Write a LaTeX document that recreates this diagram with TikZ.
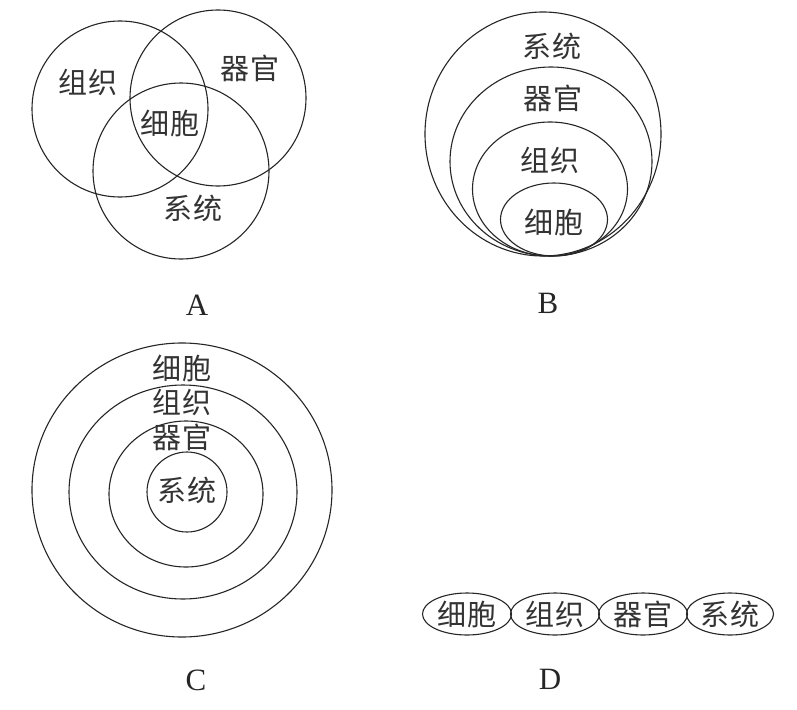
\documentclass[tikz,border=0pt]{standalone}
\usepackage{fontspec}
\setmainfont{Liberation Serif}
\newfontfamily\cjk[LetterSpace=6]{Noto Sans CJK SC}
\usetikzlibrary{shapes.geometric}
\begin{document}
\begin{tikzpicture}[x=1pt,y=-1pt,
  ring/.style={draw=black!85,line width=1.1pt,ellipse,inner sep=0pt},
  word/.style={font=\cjk\fontsize{29}{29}\selectfont,text=black!80,inner sep=0pt},
  panel/.style={font=\fontsize{31}{31}\selectfont,text=black!85,inner sep=0pt}]
\useasboundingbox[fill=white] (0,0) rectangle (797,709);
% Panel A
\node[ring,minimum width=176pt,minimum height=176pt] (a1) at (120,109) {};
\node[ring,minimum width=176pt,minimum height=176pt] (a2) at (218,98) {};
\node[ring,minimum width=176pt,minimum height=176pt] (a3) at (181,171) {};
\node[word] (at1) at (88,82) {组织};
\node[word] (at2) at (250,68) {器官};
\node[word] (at3) at (170,123) {细胞};
\node[word] (at4) at (193,208) {系统};
\node[panel] (la) at (197,305) {A};
% Panel B
\node[ring,minimum width=236pt,minimum height=244pt] (b1) at (543,134) {};
\node[ring,minimum width=202pt,minimum height=189pt] (b2) at (551,161.5) {};
\node[ring,minimum width=155pt,minimum height=134pt] (b3) at (550,189) {};
\node[ring,minimum width=107pt,minimum height=73pt] (b4) at (554,219.5) {};
\node[word] (bt1) at (552,46) {系统};
\node[word] (bt2) at (553,98) {器官};
\node[word] (bt3) at (550,160) {组织};
\node[word] (bt4) at (554,222) {细胞};
\node[panel] (lb) at (548,303) {B};
% Panel C
\node[ring,minimum width=300pt,minimum height=294pt] (c1) at (182,490) {};
\node[ring,minimum width=228pt,minimum height=214pt] (c2) at (183,492) {};
\node[ring,minimum width=154pt,minimum height=146pt] (c3) at (186,494) {};
\node[ring,minimum width=80pt,minimum height=80pt] (c4) at (187,492) {};
\node[word] (ct1) at (182,368) {细胞};
\node[word] (ct2) at (182,402) {组织};
\node[word] (ct3) at (182,437) {器官};
\node[word] (ct4) at (187,490) {系统};
\node[panel] (lc) at (196,680) {C};
% Panel D
\node[ring,minimum width=89pt,minimum height=42pt] (d1) at (467,614) {};
\node[ring,minimum width=89pt,minimum height=42pt] (d2) at (555,614) {};
\node[ring,minimum width=89pt,minimum height=42pt] (d3) at (643,614) {};
\node[ring,minimum width=87pt,minimum height=42pt] (d4) at (730,614) {};
\node[word] (dt1) at (467,614) {细胞};
\node[word] (dt2) at (555,614) {组织};
\node[word] (dt3) at (643,614) {器官};
\node[word] (dt4) at (730,614) {系统};
\node[panel] (ld) at (550,679) {D};
\end{tikzpicture}
\end{document}
